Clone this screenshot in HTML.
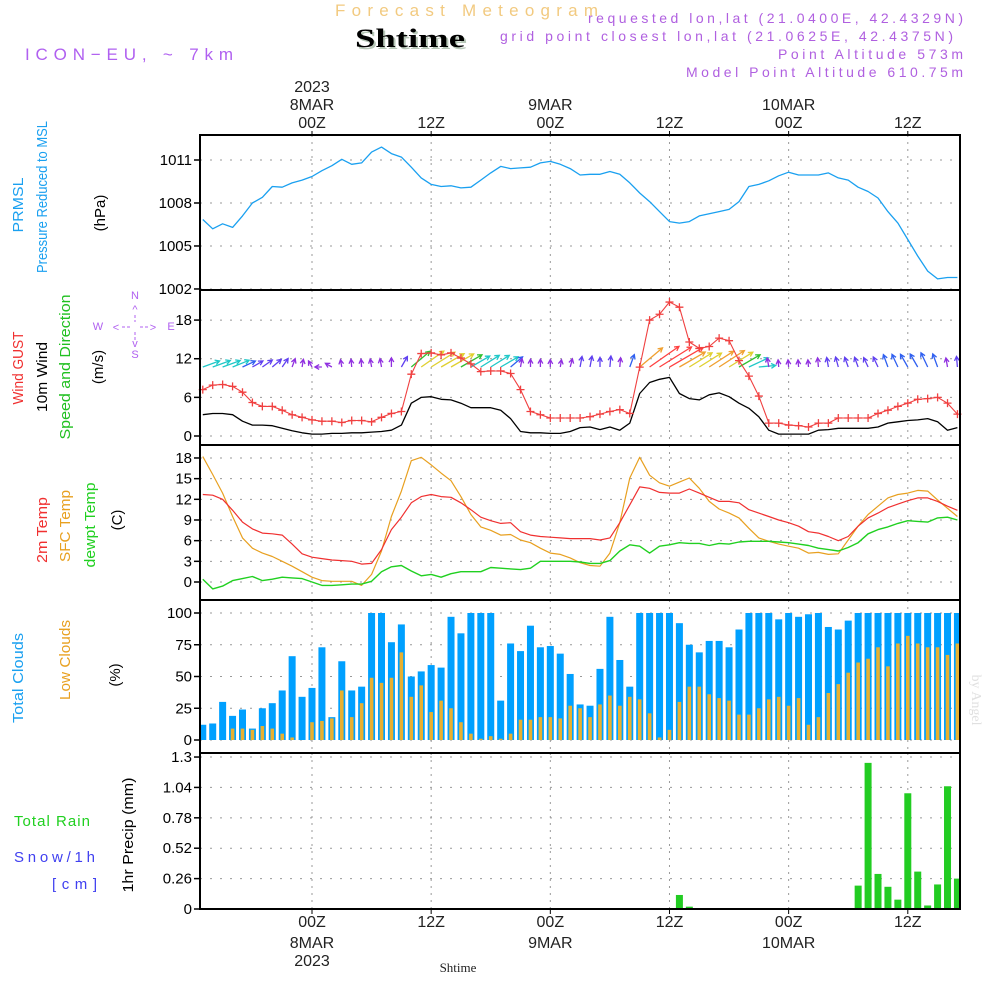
<!DOCTYPE html>
<html><head><meta charset="utf-8"><style>
html,body{margin:0;padding:0;background:#fff;}
svg{display:block;font-family:"Liberation Sans",sans-serif;}
</style></head><body>
<svg id="chart" width="1000" height="1000" viewBox="0 0 1000 1000" xmlns="http://www.w3.org/2000/svg">
<text x="335" y="16" textLength="263" lengthAdjust="spacing" font-size="17" fill="#f2ca80">Forecast Meteogram</text>
<text x="357" y="49" textLength="110" lengthAdjust="spacingAndGlyphs" font-size="26" font-weight="bold" font-family="Liberation Serif, serif" fill="#b8c8b8">Shtime</text>
<text x="355" y="47" textLength="110" lengthAdjust="spacingAndGlyphs" font-size="26" font-weight="bold" font-family="Liberation Serif, serif" fill="#000">Shtime</text>
<text x="25" y="60" textLength="208" lengthAdjust="spacing" font-size="17" fill="#b060f0">ICON−EU, ~ 7km</text>
<g font-size="14" fill="#b060e0">
<text x="588" y="23" textLength="375" lengthAdjust="spacing">requested lon,lat (21.0400E, 42.4329N)</text>
<text x="500" y="41" textLength="453" lengthAdjust="spacing">grid point closest lon,lat (21.0625E, 42.4375N)</text>
<text x="778" y="59" textLength="185" lengthAdjust="spacing">Point Altitude 573m</text>
<text x="686" y="77" textLength="277" lengthAdjust="spacing">Model Point Altitude 610.75m</text>
</g>
<text x="972" y="700" font-size="14" font-family="Liberation Serif, serif" fill="#e0e0e0" transform="rotate(90 972 700)" text-anchor="middle">by Angel</text>
<g id="grid"></g>
<g id="marks"></g>
<g id="frames"></g>
<g id="labels"></g>
</svg>
<script>
// ---- data (hourly, t = hours from 00Z 8 MAR, -11..65) ----
const hours = [];
for (let h = -11; h <= 65; h++) hours.push(h);
const pressure = [1006.85,1006.2,1006.55,1006.3,1007.1,1008.0,1008.4,1009.15,1009.1,1009.4,1009.6,1009.85,1010.25,1010.6,1011.05,1010.7,1010.8,1011.55,1011.9,1011.45,1011.2,1010.5,1009.75,1009.3,1009.15,1009.2,1009.05,1009.1,1009.6,1010.1,1010.55,1010.4,1010.45,1010.5,1010.8,1010.9,1010.7,1010.4,1009.95,1010.0,1010.0,1010.2,1010.0,1009.4,1008.7,1008.1,1007.4,1006.7,1006.6,1006.7,1007.1,1007.25,1007.4,1007.55,1008.1,1009.15,1009.3,1009.55,1009.9,1010.15,1009.95,1009.95,1009.95,1010.1,1009.75,1009.6,1009.1,1008.8,1008.35,1007.4,1006.6,1005.45,1004.3,1003.25,1002.7,1002.8,1002.8];
const gust = [7.2,7.9,8.0,7.7,6.8,5.2,4.6,4.6,4.0,3.3,2.9,2.5,2.3,2.3,2.1,2.4,2.4,2.2,2.9,3.5,3.8,9.6,12.8,12.9,12.6,12.9,12.1,11.2,10.0,10.1,10.1,9.7,7.2,3.8,3.3,2.8,2.8,2.8,2.8,3.0,3.4,3.8,4.1,3.5,10.7,18.0,18.9,20.8,20.0,14.6,13.6,13.9,15.2,14.8,11.7,9.3,6.2,2.0,2.0,1.7,1.6,1.4,2.0,2.0,2.8,2.8,2.8,2.8,3.5,4.0,4.6,5.1,5.7,5.8,6.0,5.1,3.4];
const wind10 = [3.3,3.5,3.5,3.3,2.3,1.7,1.7,1.6,1.2,0.8,0.5,0.3,0.3,0.4,0.4,0.5,0.5,0.6,0.7,0.9,1.7,5.1,6.0,6.1,5.7,5.6,5.1,4.4,4.4,4.4,4.0,2.7,0.7,0.5,0.5,0.4,0.4,0.7,1.3,1.4,1.0,1.4,0.9,2.0,6.6,8.3,8.8,9.1,6.6,5.8,5.6,6.4,6.7,6.1,5.1,4.3,3.0,0.9,0.3,0.3,0.3,0.3,0.9,1.0,1.2,1.2,1.2,1.2,1.4,2.0,2.2,2.4,2.5,2.7,2.2,0.9,1.3];
const windDir = [20,20,20,22,25,30,35,40,55,70,80,120,180,150,100,95,95,100,100,90,60,40,35,32,30,30,30,30,32,32,30,40,80,90,90,90,80,75,80,80,90,85,85,70,40,35,32,30,30,32,32,33,33,32,30,25,5,100,95,95,95,95,95,100,105,110,110,115,115,110,115,120,120,115,110,100,95];
const t2m = [12.7,12.6,12.0,10.4,8.7,7.7,7.1,7.0,6.8,5.5,4.1,3.6,3.4,3.2,3.1,3.0,2.6,2.7,4.7,7.6,9.4,11.5,12.4,12.7,12.4,12.3,11.5,10.5,9.4,8.9,8.5,8.6,7.3,6.8,6.6,6.5,6.4,6.3,6.3,6.3,6.1,6.4,8.6,11.2,13.8,13.6,13.0,12.9,12.9,13.5,12.9,12.3,11.7,11.7,11.5,10.5,10.0,9.5,9.0,8.6,8.1,7.3,7.1,6.6,6.0,6.6,8.1,9.3,10.0,10.8,11.3,11.8,12.2,12.2,11.7,11.0,10.4];
const tsfc = [18.2,15.6,12.9,9.5,6.4,4.9,4.2,3.7,3.0,2.3,1.5,0.7,0.2,0.1,0.1,0.1,-0.5,1.1,4.5,9.5,13.2,17.6,18.1,17.0,15.8,14.7,12.4,9.8,8.0,7.5,6.8,6.9,6.1,5.7,4.9,4.2,4.0,3.5,2.8,2.4,2.3,4.2,8.6,15.1,18.1,15.5,14.4,13.9,14.5,15.1,13.6,11.7,10.6,10.0,9.3,7.8,6.4,5.9,5.5,5.2,4.9,4.2,4.3,4.0,4.1,6.1,8.1,9.8,11.0,12.2,12.7,12.9,13.3,13.2,11.9,10.7,9.5];
const tdew = [0.4,-1.0,-0.6,0.2,0.5,0.8,0.2,0.4,0.7,0.6,0.5,0.0,-0.5,-0.5,-0.4,-0.3,-0.3,0.1,1.5,2.2,2.4,1.6,0.9,1.1,0.7,1.2,1.5,1.5,1.5,2.1,2.0,1.9,1.8,2.0,3.0,3.0,3.0,3.0,2.9,2.7,2.7,3.1,4.5,5.4,5.2,4.2,5.2,5.4,5.7,5.6,5.6,5.3,5.6,5.5,5.8,5.9,5.9,5.9,5.8,5.7,5.5,5.3,4.9,4.7,4.5,5.0,5.7,7.0,7.6,8.0,8.5,8.9,8.8,8.7,9.3,9.4,9.0];
const cloudTotal = [12,13,30,19,24,9,25,29,39,66,34,41,73,18,62,39,42,100,100,77,91,50,54,59,57,97,84,100,100,100,31,76,70,90,73,74,68,52,28,27,56,97,63,42,100,100,100,100,92,75,69,78,78,73,87,100,100,100,95,100,97,99,100,89,87,94,100,100,100,100,100,100,100,100,100,100,100];
const cloudLow = [0,0,0,9,9,8,11,9,5,2,0,14,15,17,39,18,29,49,45,49,69,34,43,22,31,25,14,5,1,3,1,5,16,16,18,18,17,27,25,18,28,35,27,34,32,21,2,8,30,42,42,36,33,31,20,20,25,32,34,27,33,12,18,37,44,53,61,64,73,58,76,82,76,73,73,67,76];
const rainHours = [9,37,38,55,56,57,58,59,60,61,62,63,64,65];
const rainValues = [0.005,0.12,0.02,0.20,1.25,0.30,0.19,0.08,0.99,0.32,0.03,0.21,1.05,0.26];
const pTicks = [1002,1005,1008,1011];
const wTicks = [0,6,12,18];
const tTicks = [0,3,6,9,12,15,18];
const cTicks = [0,25,50,75,100];
const rTicks = [0,0.26,0.52,0.78,1.04,1.3];
const timeTicks = [0,12,24,36,48,60];
const topTickLabels = ["00Z","12Z","00Z","12Z","00Z","12Z"];
const dayLabels = ["8MAR","","9MAR","","10MAR",""];

// ---- axes ----
const X0 = 200, X1 = 960;
const xT = t => 312 + t * 9.93;
const yP = p => 160 + (1011 - p) * 14.33;
const yW = v => 436 - v * 6.44;
const yT = c => 582 - c * 6.89;
const yC = c => 740 - c * 1.27;
const yR = r => 909 - r * 116.9;
const panels = [[135,290,'pressure'],[290,445,'wind'],[445,600,'temperature'],[600,753,'clouds'],[753,909,'precip']];

const NS = 'http://www.w3.org/2000/svg';
function mk(tag, parent, attrs) {
  const e = document.createElementNS(NS, tag);
  for (const k in attrs) e.setAttribute(k, attrs[k]);
  parent.appendChild(e);
  return e;
}
const grid = document.getElementById('grid');
const marks = document.getElementById('marks');
const frames = document.getElementById('frames');
const labels = document.getElementById('labels');

panels.forEach(([a, b, n]) => {
  timeTicks.forEach(t => {
    const g = mk('line', grid, {x1: xT(t), x2: xT(t), y1: a, y2: b, stroke: '#999', 'stroke-width': 1, 'stroke-dasharray': '2,5'});
    
    
  });
  const f = mk('rect', frames, {x: X0, y: a, width: X1 - X0, height: b - a, fill: 'none', stroke: '#000', 'stroke-width': 2});
  
  
});

function yAxis(ticks, yf, fmt, name) {
  ticks.forEach(v => {
    const y = yf(v);
    const g = mk('line', grid, {x1: X0, x2: X1, y1: y, y2: y, stroke: '#999', 'stroke-width': 1, 'stroke-dasharray': '2,8'});
    
    
    const tk = mk('line', frames, {x1: X0 - 6, x2: X0, y1: y, y2: y, stroke: '#000', 'stroke-width': 1.5});
    
    
    const tx = mk('text', labels, {x: X0 - 8, y: y + 5, 'text-anchor': 'end', 'font-size': 15, fill: '#000'});
    tx.textContent = fmt(v);
    
    
  });
}
yAxis(pTicks, yP, v => String(v), 'pressure-y');
yAxis(wTicks, yW, v => String(v), 'wind-y');
yAxis(tTicks, yT, v => String(v), 'temp-y');
yAxis(cTicks, yC, v => String(v), 'cloud-y');
yAxis(rTicks, yR, v => v === 0 ? '0' : String(v), 'precip-y');

timeTicks.forEach((t, i) => {
  const x = xT(t);
  const a = mk('line', frames, {x1: x, x2: x, y1: 131, y2: 135, stroke: '#000', 'stroke-width': 1});
  
  
  const b = mk('line', frames, {x1: x, x2: x, y1: 909, y2: 914, stroke: '#000', 'stroke-width': 1});
  
  
  const t1 = mk('text', labels, {x: x, y: 128, 'text-anchor': 'middle', 'font-size': 16, fill: '#222'});
  t1.textContent = topTickLabels[i];
  
  
  const t2 = mk('text', labels, {x: x, y: 927, 'text-anchor': 'middle', 'font-size': 16, fill: '#222'});
  t2.textContent = topTickLabels[i];
  
  
  if (dayLabels[i]) {
    const d1 = mk('text', labels, {x: x, y: 110, 'text-anchor': 'middle', 'font-size': 16, fill: '#222'});
    d1.textContent = dayLabels[i];
    
    
    const d2 = mk('text', labels, {x: x, y: 948, 'text-anchor': 'middle', 'font-size': 16, fill: '#222'});
    d2.textContent = dayLabels[i];
    
    
  }
});
[[92, 'top-year-label'], [966, 'bottom-year-label']].forEach(([y, n]) => {
  const e = mk('text', labels, {x: xT(0), y: y, 'text-anchor': 'middle', 'font-size': 16, fill: '#222'});
  e.textContent = '2023';
  
  
});
const xl = mk('text', labels, {x: 458, y: 972, 'text-anchor': 'middle', 'font-size': 13, 'font-family': 'Liberation Serif, serif', fill: '#222'});
xl.textContent = 'Shtime';



function line(vals, yf, color, name, w) {
  const pts = vals.map((v, i) => xT(hours[i]).toFixed(1) + ',' + yf(v).toFixed(1)).join(' ');
  const p = mk('polyline', marks, {points: pts, fill: 'none', stroke: color, 'stroke-width': w || 1.3, 'stroke-linejoin': 'round'});
  
  
}

line(pressure, yP, '#1aa0f0', 'pressure-line', 1.3);

cloudTotal.forEach((v, i) => {
  const x = xT(hours[i]);
  const r = mk('rect', marks, {x: x - 3.5, y: yC(v), width: 7, height: yC(0) - yC(v), fill: '#00a0ff'});
  
  
});
cloudLow.forEach((v, i) => {
  const x = xT(hours[i]);
  const r = mk('rect', marks, {x: x - 1.8, y: yC(v), width: 3.6, height: yC(0) - yC(v), fill: '#e8b030'});
  
  
});

rainValues.forEach((v, i) => {
  const x = xT(rainHours[i]);
  const r = mk('rect', marks, {x: x - 3.5, y: yR(v), width: 7, height: yR(0) - yR(v), fill: '#22cc22'});
  
  
});
const zl = mk('line', marks, {x1: X0, x2: X1, y1: yR(0), y2: yR(0), stroke: '#000', 'stroke-width': 1.5});



line(tsfc, yT, '#e8a020', 'sfc-temp-line', 1.2);
line(t2m, yT, '#f03030', '2m-temp-line', 1.2);
line(tdew, yT, '#20d020', 'dewpoint-line', 1.4);

function spdColor(s) {
  if (s >= 7) return '#ff4040';
  if (s >= 6.3) return '#f0a030';
  if (s >= 5.5) return '#e0d030';
  if (s >= 4.5) return '#30c030';
  if (s >= 3) return '#20c8c8';
  if (s >= 2) return '#3060f0';
  if (s >= 1) return '#6040f0';
  return '#9030e0';
}
wind10.forEach((s, i) => {
  const x = xT(hours[i]), y = 367;
  const L = 6 + 3.6 * s;
  const a = windDir[i] * Math.PI / 180;
  const tx = x + L * Math.cos(a), ty = y - L * Math.sin(a);
  const c = spdColor(s);
  const g = mk('g', marks, {stroke: c, 'stroke-width': 1.3, fill: 'none'});
  
  
  const h = 5;
  const a1 = a + Math.PI - 0.5, a2 = a + Math.PI + 0.5;
  mk('path', g, {d: `M${x.toFixed(1)},${y} L${tx.toFixed(1)},${ty.toFixed(1)} M${(tx + h * Math.cos(a1)).toFixed(1)},${(ty - h * Math.sin(a1)).toFixed(1)} L${tx.toFixed(1)},${ty.toFixed(1)} L${(tx + h * Math.cos(a2)).toFixed(1)},${(ty - h * Math.sin(a2)).toFixed(1)}`});
});

line(wind10, yW, '#000', 'wind-10m-line', 1.3);
line(gust, yW, '#f04040', 'wind-gust-line', 1.1);
gust.forEach((v, i) => {
  const x = xT(hours[i]), y = yW(v);
  const p = mk('path', marks, {d: `M${x - 4},${y} H${x + 4} M${x},${y - 4} V${y + 4}`, stroke: '#f04040', 'stroke-width': 1.3});
  
  
});

function vlab(txt, x, y, color, name, len) {
  const attrs = {x: x, y: y, 'text-anchor': 'middle', 'font-size': 15, fill: color, transform: `rotate(-90 ${x} ${y})`};
  if (len) { attrs.textLength = len; attrs.lengthAdjust = 'spacingAndGlyphs'; }
  const e = mk('text', labels, attrs);
  e.textContent = txt;
  
  
}
vlab('PRMSL', 23, 205, '#1aa0f0', 'pressure-label-prmsl', 55);
vlab('Pressure Reduced to MSL', 47, 197, '#1aa0f0', 'pressure-label', 152);
vlab('(hPa)', 105, 213, '#000', 'pressure-unit');
vlab('Wind GUST', 23, 368, '#f03030', 'gust-label', 73);
vlab('10m Wind', 47, 377, '#000', 'wind10-label', 70);
vlab('Speed and Direction', 70, 367, '#20c020', 'wind-direction-label', 145);
vlab('(m/s)', 103, 367, '#000', 'wind-unit');
vlab('2m Temp', 47, 530, '#f03030', 'temp2m-label', 66);
vlab('SFC Temp', 70, 526, '#e8a020', 'sfc-temp-label', 72);
vlab('dewpt Temp', 95, 525, '#20d020', 'dewpt-label', 85);
vlab('(C)', 122, 520, '#000', 'temp-unit');
vlab('Total Clouds', 23, 678, '#1aa0f0', 'total-clouds-label', 90);
vlab('Low Clouds', 70, 660, '#e8a020', 'low-clouds-label', 80);
vlab('(%)', 120, 675, '#000', 'cloud-unit');
vlab('1hr Precip (mm)', 133, 835, '#000', 'precip-unit', 115);
function hlab(txt, x, y, color, name, len) {
  const e = mk('text', labels, {x: x, y: y, 'font-size': 15, fill: color, textLength: len, lengthAdjust: 'spacing'});
  e.textContent = txt;
  
  
}
hlab('Total  Rain', 14, 826, '#20d020', 'total-rain-label', 76);
hlab('Snow/1h', 14, 862, '#4040f0', 'snow-label', 81);
hlab('[cm]', 52, 889, '#4040f0', 'snow-unit', 45);

const cg = mk('g', labels, {fill: '#b060f0', 'font-size': 11, 'text-anchor': 'middle'});


[['N', 135, 299], ['S', 135, 358], ['W', 98, 330], ['E', 171, 330], ['^', 135, 313], ['v', 135, 347], ['<', 116, 331], ['>', 153, 331]].forEach(([t, x, y]) => {
  const e = mk('text', cg, {x: x, y: y});
  e.textContent = t;
});
mk('path', cg, {d: 'M122,327 H130 M140,327 H148 M135,315 V322 M135,332 V340', stroke: '#b060f0', 'stroke-width': 1, 'stroke-dasharray': '3,2'});
</script>
</body></html>
